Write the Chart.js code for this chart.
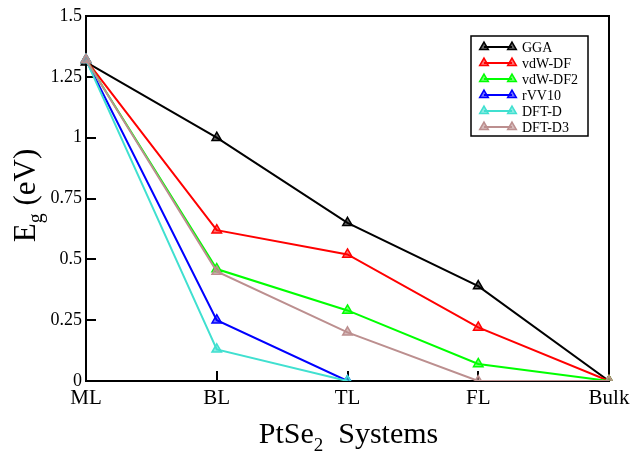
<!DOCTYPE html>
<html>
<head>
<meta charset="utf-8">
<script src="https://cdn.jsdelivr.net/npm/chart.js@4"></script>
<style>
  html, body { margin: 0; padding: 0; background: #fff; }
</style>
</head>
<body>
<canvas id="c" width="632" height="454"></canvas>
<script>
// Band gap of PtSe2 systems for each exchange-correlation functional
const systems = ['ML', 'BL', 'TL', 'FL', 'Bulk'];
const seriesNames = ['GGA', 'vdW-DF', 'vdW-DF2', 'rVV10', 'DFT-D', 'DFT-D3'];
const gga    = [1.31, 1.00, 0.65, 0.39, 0.00];
const vdwDF  = [1.32, 0.62, 0.52, 0.22, 0.00];
const vdwDF2 = [1.32, 0.46, 0.29, 0.07, 0.00];
const rvv10  = [1.32, 0.25, 0.00, null, null];
const dftD   = [1.32, 0.13, 0.00, null, null];
const dftD3  = [1.32, 0.45, 0.20, 0.00, 0.00];
const yTicks = [0, 0.25, 0.5, 0.75, 1, 1.25, 1.5];

const seriesValues = [gga, vdwDF, vdwDF2, rvv10, dftD, dftD3];
const colors = ['#000000', '#ff0000', '#00ff00', '#0000ff', '#40e0d0', '#bc8f8f'];
const fills  = ['rgba(0,0,0,0.6)', 'rgba(255,0,0,0.55)', 'rgba(0,255,0,0.55)',
                'rgba(0,0,255,0.55)', 'rgba(64,224,208,0.6)', 'rgba(188,143,143,0.6)'];

const SERIF = '"Liberation Serif", "Times New Roman", serif';

const datasets = seriesNames.map((name, i) => ({
  label: name,
  data: seriesValues[i],
  borderColor: colors[i],
  backgroundColor: fills[i],
  borderWidth: 2,
  pointStyle: 'triangle',
  pointRadius: 5.5,
  pointBorderWidth: 1.5,
  pointBorderColor: colors[i],
  pointBackgroundColor: fills[i],
  spanGaps: false,
  tension: 0,
  order: seriesNames.length - i
}));

// Axis frame and inward tick marks
const framePlugin = {
  id: 'frame',
  beforeDatasetsDraw(chart) {
    const { ctx, chartArea: a, scales: { x, y } } = chart;
    ctx.save();
    ctx.strokeStyle = '#000';
    ctx.lineWidth = 2;
    ctx.strokeRect(a.left, a.top, a.right - a.left, a.bottom - a.top);
    ctx.beginPath();
    yTicks.forEach(v => {
      const py = Math.round(y.getPixelForValue(v));
      ctx.moveTo(a.left, py);
      ctx.lineTo(a.left + 10, py);
    });
    systems.forEach((s, i) => {
      const px = Math.round(x.getPixelForValue(i));
      ctx.moveTo(px, a.bottom);
      ctx.lineTo(px, a.bottom - 10);
    });
    ctx.stroke();
    ctx.restore();
  }
};

// Draws a run of text pieces (some lowered as subscripts) centred on cx
function drawRich(ctx, parts, cx, baseline) {
  let total = 0;
  parts.forEach(p => {
    ctx.font = p.size + 'px ' + SERIF;
    p.w = ctx.measureText(p.text).width;
    total += p.w;
  });
  let px = cx - total / 2;
  parts.forEach(p => {
    ctx.font = p.size + 'px ' + SERIF;
    ctx.fillText(p.text, px, baseline + p.dy);
    px += p.w;
  });
}

// Axis titles with subscripts
const titlePlugin = {
  id: 'titles',
  afterDraw(chart) {
    const { ctx, chartArea: a } = chart;
    ctx.save();
    ctx.fillStyle = '#000';
    ctx.textBaseline = 'alphabetic';
    ctx.textAlign = 'left';
    drawRich(ctx, [
      { text: 'PtSe', size: 30, dy: 0 },
      { text: '2', size: 19, dy: 8 },
      { text: '  Systems', size: 30, dy: 0 }
    ], (a.left + a.right) / 2 + 1, 443);

    ctx.translate(35, (a.top + a.bottom) / 2 - 3);
    ctx.rotate(-Math.PI / 2);
    drawRich(ctx, [
      { text: 'E', size: 31, dy: 0 },
      { text: 'g', size: 20, dy: 7 },
      { text: ' (eV)', size: 31, dy: 0 }
    ], 0, 0);
    ctx.restore();
  }
};

// Boxed legend: a short line with a triangle at each end, then the name
const legendPlugin = {
  id: 'boxLegend',
  afterDraw(chart) {
    const { ctx } = chart;
    const box = { left: 471, top: 36, right: 588, bottom: 136 };
    ctx.save();
    ctx.fillStyle = '#fff';
    ctx.fillRect(box.left, box.top, box.right - box.left, box.bottom - box.top);
    ctx.strokeStyle = '#000';
    ctx.lineWidth = 1.5;
    ctx.strokeRect(box.left, box.top, box.right - box.left, box.bottom - box.top);
    chart.data.datasets.forEach((ds, i) => {
      const yy = 47 + i * 16;
      ctx.strokeStyle = ds.borderColor;
      ctx.lineWidth = 2;
      ctx.beginPath();
      ctx.moveTo(484, yy);
      ctx.lineTo(512, yy);
      ctx.stroke();
      ctx.fillStyle = ds.pointBackgroundColor;
      ctx.strokeStyle = ds.pointBorderColor;
      ctx.lineWidth = 1.5;
      [484, 512].forEach(px => {
        Chart.helpers.drawPoint(ctx, { pointStyle: 'triangle', radius: 5, borderWidth: 1.5, rotation: 0 }, px, yy);
      });
      ctx.fillStyle = '#000';
      ctx.font = '14px ' + SERIF;
      ctx.textBaseline = 'middle';
      ctx.textAlign = 'left';
      ctx.fillText(ds.label, 522, yy + 1);
    });
    ctx.restore();
  }
};

new Chart(document.getElementById('c'), {
  type: 'line',
  data: { labels: systems, datasets },
  options: {
    responsive: false,
    animation: false,
    devicePixelRatio: 1,
    layout: { padding: { left: 0, right: 23, top: 16, bottom: 0 } },
    plugins: {
      legend: { display: false },
      tooltip: { enabled: false }
    },
    scales: {
      x: {
        type: 'category',
        offset: false,
        grid: { display: false, drawTicks: false },
        border: { display: false },
        ticks: {
          color: '#000',
          font: { family: SERIF, size: 21 },
          padding: 5,
          maxRotation: 0,
          autoSkip: false
        },
        afterFit(scale) {
          scale.height = 73;
          scale.paddingLeft = 0;
          scale.paddingRight = 0;
        }
      },
      y: {
        type: 'linear',
        min: 0,
        max: 1.5,
        grid: { display: false, drawTicks: false },
        border: { display: false },
        afterBuildTicks(scale) {
          scale.ticks = yTicks.map(v => ({ value: v }));
        },
        ticks: {
          color: '#000',
          font: { family: SERIF, size: 18 },
          padding: 4,
          callback: v => String(v)
        },
        afterFit(scale) {
          scale.width = 86;
          scale.paddingTop = 0;
          scale.paddingBottom = 0;
        }
      }
    }
  },
  plugins: [framePlugin, titlePlugin, legendPlugin]
});
</script>
</body>
</html>
